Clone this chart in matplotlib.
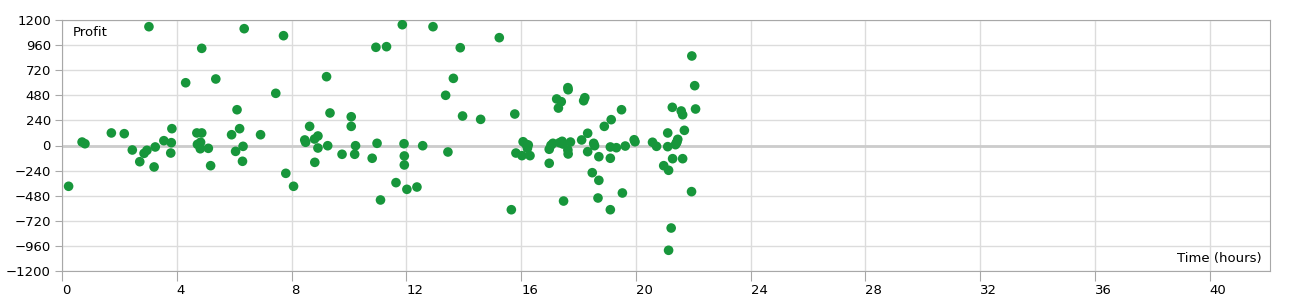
import numpy as np
import matplotlib.pyplot as plt

# trade duration (hours) and profit
hours = [0.23, 0.70, 0.80, 1.72, 2.17, 2.45, 2.71, 2.86, 2.96, 3.03, 3.21, 3.25, 3.55, 3.79, 3.81, 3.83,
         4.31, 4.70, 4.87, 4.72, 4.83, 4.82, 4.87, 5.10, 5.18, 5.36, 5.91, 6.05, 6.10, 6.19, 6.31, 6.29,
         6.35, 6.92, 7.45, 7.72, 7.80, 8.07, 8.46, 8.49, 8.63, 8.80, 8.92, 8.81, 8.92, 9.22, 9.26, 9.34,
         9.76, 10.08, 10.08, 10.20, 10.23, 10.81, 10.94, 10.98, 11.10, 11.31, 11.64, 11.86, 11.92, 11.93,
         11.93, 12.02, 12.37, 12.57, 12.93, 13.37, 13.45, 13.64, 13.88, 13.96, 14.59, 15.24, 15.66, 15.78,
         15.82, 16.03, 16.07, 16.16, 16.25, 16.22, 16.31, 16.98, 16.98, 17.04, 17.11, 17.24, 17.40, 17.30,
         17.34, 17.43, 17.46, 17.48, 17.63, 17.64, 17.63, 17.64, 17.72, 18.11, 18.18, 18.22, 18.32, 18.32,
         18.48, 18.53, 18.56, 18.68, 18.71, 18.71, 18.90, 19.11, 19.11, 19.11, 19.14, 19.32, 19.50, 19.53,
         19.63, 19.94, 19.97, 20.58, 20.72, 20.97, 21.14, 21.11, 21.11, 21.14, 21.23, 21.27, 21.28, 21.38,
         21.43, 21.46, 21.41, 21.58, 21.63, 21.63, 21.69, 21.94, 21.95, 22.05, 22.08]
profit = [-390, 33, 17, 120, 113, -43, -155, -75, -46, 1136, -205, -14, 46, -72, 27, 161,
          600, 120, 120, 11, 31, -31, 929, -27, -193, 636, 103, -56, 342, 161, -8, -151,
          1117, 103, 499, 1050, -266, -390, 53, 31, 183, 62, 91, -161, -24, 658, -2, 311,
          -84, 275, 183, -84, -2, -122, 939, 21, -521, 945, -355, 1155, 17, -100,
          -186, -419, -397, -2, 1136, 480, -62, 642, 935, 282, 250, 1031, -614, 301,
          -72, -97, 36, 14, 5, -27, -97, -170, -36, 2, 21, 445, 419, 358,
          27, 40, 14, -531, 553, 533, -43, -81, 33, 53, 428, 457, 117, -59,
          -260, 21, -2, -502, -107, -333, 183, -14, -122, -614, 247, -21, 342, -454,
          -5, 55, 36, 31, -8, -193, -237, 120, -11, -1002, -789, 365, -126, 8,
          33, 59, 24, 330, 294, -126, 145, -441, 856, 572, 349]

x_ticks = np.arange(0, 41, 4)
y_ticks = np.arange(-1200, 1201, 240)

plt.rcParams['font.family'] = 'DejaVu Sans'
fig = plt.figure(figsize=(12.9, 3), dpi=100)
ax = fig.add_axes([62/1290, 29/300, 1208/1290, 251/300])

ax.set_xlim(0, 42.1)
ax.set_ylim(-1200, 1200)
ax.set_xticks(x_ticks)
ax.set_yticks(y_ticks)
ax.grid(True, color="#dcdcdc", linewidth=1)
ax.set_axisbelow(True)
ax.axhline(0, color="#cccccc", linewidth=2, zorder=1)

ax.scatter(hours, profit, s=48, color="#17963b", edgecolors="none", zorder=3)

for s in ax.spines.values():
    s.set_color("#a8a8a8")
ax.tick_params(axis="y", length=5, color="#a8a8a8", labelsize=9.5, pad=3)
ax.tick_params(axis="x", length=7, color="#a8a8a8", labelsize=9.5, pad=2)
for lab in ax.get_xticklabels():
    lab.set_horizontalalignment("left")

ax.text(0.009, 0.975, "Profit", transform=ax.transAxes, ha="left", va="top", fontsize=9.5)
ax.text(0.993, 0.025, "Time (hours)", transform=ax.transAxes, ha="right", va="bottom", fontsize=9.5)

fig.savefig("out.png", dpi=100)
